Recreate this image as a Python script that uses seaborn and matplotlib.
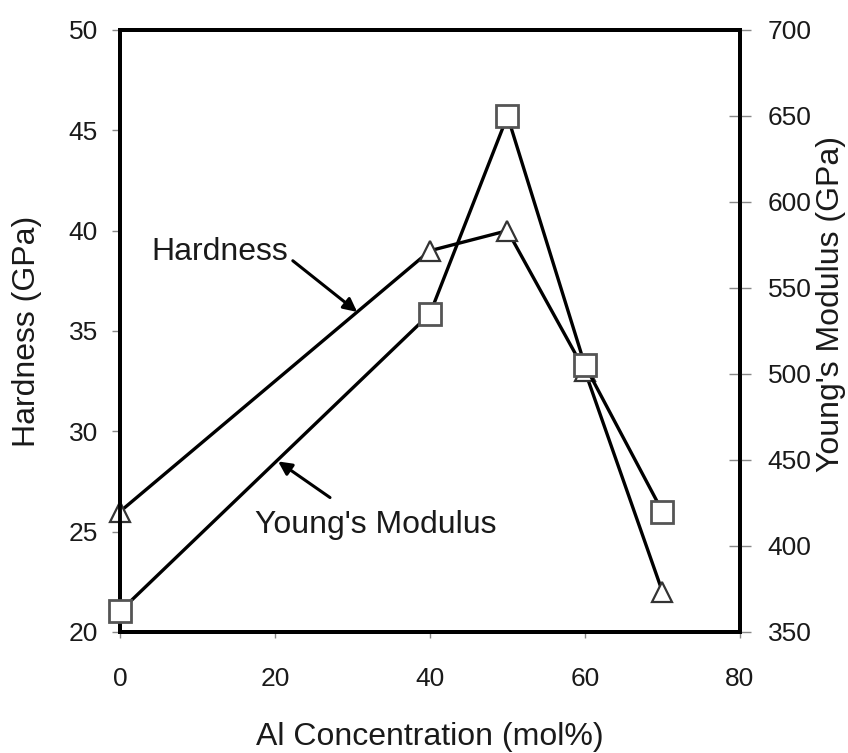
import matplotlib
matplotlib.use("Agg")
import matplotlib.pyplot as plt
import seaborn as sns
import pandas as pd

al_conc = [0, 40, 50, 60, 70]
hardness = [26, 39, 40, 33, 22]
youngs_modulus = [362, 535, 650, 505, 420]

x_ticks = [0, 20, 40, 60, 80]
h_ticks = [20, 25, 30, 35, 40, 45, 50]
e_ticks = [350, 400, 450, 500, 550, 600, 650, 700]

sns.set_theme(style="white")
plt.rcParams['font.family'] = ['Liberation Sans', 'DejaVu Sans']

df = pd.DataFrame({"al": al_conc, "H": hardness, "E": youngs_modulus})

fig = plt.figure(figsize=(8.48, 7.53), dpi=100)
ax = fig.add_axes([0.1415, 0.1607, 0.7311, 0.7995])
ax2 = ax.twinx()

sns.lineplot(data=df, x="al", y="H", ax=ax, color="black", lw=2.4,
             marker="^", markersize=14, markerfacecolor="white",
             markeredgecolor="#333333", markeredgewidth=1.6, zorder=3,
             clip_on=False)
sns.lineplot(data=df, x="al", y="E", ax=ax2, color="black", lw=2.4,
             marker="s", markersize=15.5, markerfacecolor="white",
             markeredgecolor="#555555", markeredgewidth=2.0, zorder=3,
             clip_on=False)

ax.set_xlim(0, 80)
ax.set_ylim(20, 50)
ax2.set_ylim(350, 700)
ax.set_xticks(x_ticks)
ax.set_yticks(h_ticks)
ax2.set_yticks(e_ticks)

tfs = 19
lfs = 23
txt = "#1a1a1a"
ax.set_xticklabels([str(v) for v in x_ticks], fontsize=tfs)
ax.set_yticklabels([str(v) for v in h_ticks], fontsize=tfs)
ax2.set_yticklabels([str(v) for v in e_ticks], fontsize=tfs)

ax.set_xlabel("Al Concentration (mol%)", fontsize=lfs, color=txt)
ax.set_ylabel("Hardness (GPa)", fontsize=lfs, color=txt)
ax2.set_ylabel("Young's Modulus (GPa)", fontsize=lfs, color=txt)
ax.xaxis.set_label_coords(0.5, -0.149)
ax.yaxis.set_label_coords(-0.126, 0.5)
ax2.yaxis.set_label_coords(1.123, 0.545)

for a in (ax, ax2):
    for s in a.spines.values():
        s.set_linewidth(2.8)
        s.set_color("black")

ax.tick_params(axis="x", direction="out", length=4, width=1, colors="#888888",
               labelcolor=txt, pad=21, bottom=True)
ax.tick_params(axis="y", direction="out", length=6, width=1, colors="#888888",
               labelcolor=txt, pad=10, left=True)
ax2.tick_params(axis="y", direction="inout", length=16, width=1, colors="#888888",
                labelcolor=txt, pad=12, right=True)

ax.text(4.1, 38.54, "Hardness", fontsize=lfs, color=txt, ha="left", va="baseline")
ax.annotate("", xy=(30.6, 35.95), xytext=(22.3, 38.5),
            arrowprops=dict(arrowstyle="-|>", color="black", lw=2.2,
                            mutation_scale=20, shrinkA=0, shrinkB=0))
ax.text(17.4, 24.94, "Young's Modulus", fontsize=lfs, color=txt, ha="left", va="baseline")
ax.annotate("", xy=(20.4, 28.5), xytext=(27.1, 26.7),
            arrowprops=dict(arrowstyle="-|>", color="black", lw=2.2,
                            mutation_scale=20, shrinkA=0, shrinkB=0))

fig.savefig("out.png", dpi=100, facecolor="white")
